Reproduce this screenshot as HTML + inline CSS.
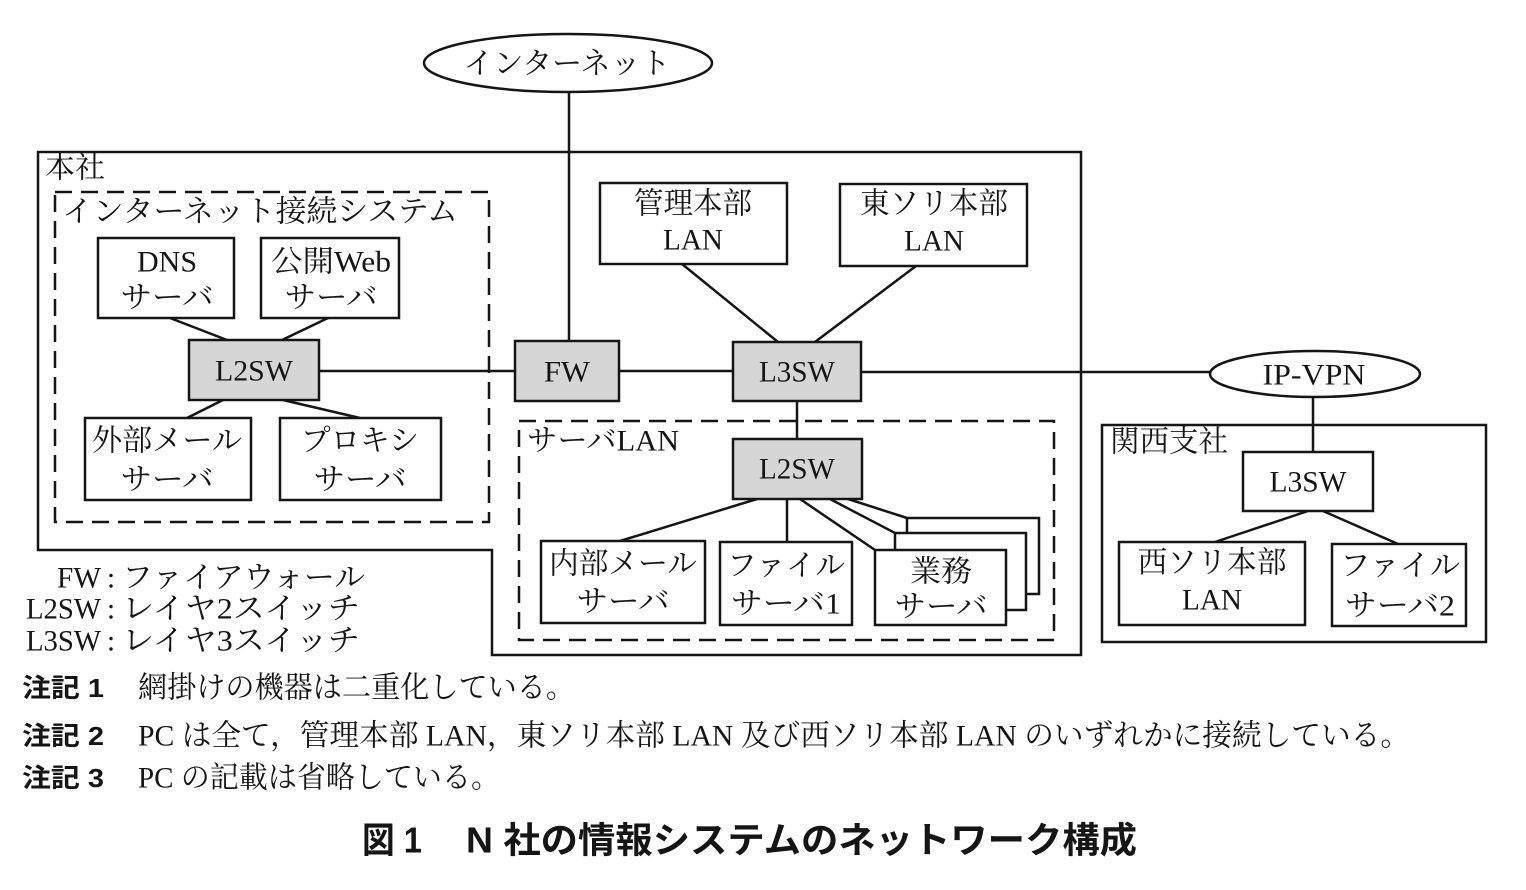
<!DOCTYPE html>
<html><head><meta charset="utf-8">
<style>
html,body{margin:0;padding:0;background:#fff;}
svg{display:block;}
.s{font-family:"Liberation Serif","Noto Serif CJK SC","Noto Serif CJK JP",serif;font-size:30px;fill:#151515;}
.g{font-family:"Liberation Sans","Noto Sans CJK JP",sans-serif;font-weight:700;fill:#151515;}
.ln{stroke:#151515;stroke-width:2.5;fill:none;}
.bx{stroke:#151515;stroke-width:2.5;fill:#fff;}
.gy{stroke:#151515;stroke-width:2.5;fill:#d6d6d6;}
.ds{stroke:#151515;stroke-width:2.5;fill:none;stroke-dasharray:17 9;}
</style></head><body>
<svg width="1526" height="890" viewBox="0 0 1526 890" xmlns="http://www.w3.org/2000/svg">
<rect width="1526" height="890" fill="#fff"/>

<!-- Internet -->
<line class="ln" x1="569" y1="92" x2="569" y2="341"/>
<ellipse class="bx" cx="568" cy="63" rx="144" ry="29"/>
<text class="s" x="567" y="64" text-anchor="middle" dominant-baseline="central" textLength="207" lengthAdjust="spacingAndGlyphs">インターネット</text>

<!-- Honsha -->
<path class="ln" d="M38,152 L1081,152 L1081,655 L492,655 L492,550 L38,550 Z"/>
<text class="s" x="45" y="168" dominant-baseline="central" textLength="60" lengthAdjust="spacingAndGlyphs">本社</text>

<!-- Internet connection system -->
<rect class="ds" x="55" y="192" width="434" height="330"/>
<text class="s" x="62" y="212" dominant-baseline="central" textLength="396" lengthAdjust="spacingAndGlyphs">インターネット接続システム</text>

<line class="ln" x1="170" y1="318" x2="227" y2="340"/>
<line class="ln" x1="328" y1="318" x2="282" y2="340"/>
<line class="ln" x1="223" y1="400" x2="187" y2="418"/>
<line class="ln" x1="283" y1="400" x2="360" y2="418"/>
<line class="ln" x1="319" y1="371" x2="515" y2="371"/>

<rect class="bx" x="98" y="238" width="136" height="80"/>
<text class="s" x="167" y="262" text-anchor="middle" dominant-baseline="central">DNS</text>
<text class="s" x="167" y="298" text-anchor="middle" dominant-baseline="central" textLength="93" lengthAdjust="spacingAndGlyphs">サーバ</text>

<rect class="bx" x="261" y="238" width="138" height="80"/>
<text class="s" x="331" y="262" text-anchor="middle" dominant-baseline="central" textLength="120" lengthAdjust="spacingAndGlyphs">公開Web</text>
<text class="s" x="331" y="298" text-anchor="middle" dominant-baseline="central" textLength="93" lengthAdjust="spacingAndGlyphs">サーバ</text>

<rect class="gy" x="189" y="340" width="130" height="60"/>
<text class="s" x="254" y="371" text-anchor="middle" dominant-baseline="central" textLength="78" lengthAdjust="spacingAndGlyphs">L2SW</text>

<rect class="bx" x="85" y="418" width="166" height="82"/>
<text class="s" x="167" y="441" text-anchor="middle" dominant-baseline="central" textLength="150" lengthAdjust="spacingAndGlyphs">外部メール</text>
<text class="s" x="167" y="480" text-anchor="middle" dominant-baseline="central" textLength="93" lengthAdjust="spacingAndGlyphs">サーバ</text>

<rect class="bx" x="280" y="418" width="161" height="82"/>
<text class="s" x="360" y="441" text-anchor="middle" dominant-baseline="central" textLength="118" lengthAdjust="spacingAndGlyphs">プロキシ</text>
<text class="s" x="360" y="480" text-anchor="middle" dominant-baseline="central" textLength="93" lengthAdjust="spacingAndGlyphs">サーバ</text>

<!-- FW / L3SW -->
<line class="ln" x1="619" y1="371" x2="733" y2="371"/>
<line class="ln" x1="682" y1="264" x2="778" y2="342"/>
<line class="ln" x1="916" y1="266" x2="815" y2="342"/>
<line class="ln" x1="861" y1="372" x2="1210" y2="372"/>
<line class="ln" x1="797" y1="401" x2="797" y2="439"/>

<rect class="gy" x="515" y="341" width="104" height="60"/>
<text class="s" x="567" y="372" text-anchor="middle" dominant-baseline="central" textLength="46" lengthAdjust="spacingAndGlyphs">FW</text>

<rect class="gy" x="733" y="342" width="128" height="59"/>
<text class="s" x="797" y="372" text-anchor="middle" dominant-baseline="central" textLength="76" lengthAdjust="spacingAndGlyphs">L3SW</text>

<rect class="bx" x="600" y="183" width="187" height="81"/>
<text class="s" x="693" y="204" text-anchor="middle" dominant-baseline="central" textLength="118" lengthAdjust="spacingAndGlyphs">管理本部</text>
<text class="s" x="693" y="240" text-anchor="middle" dominant-baseline="central" textLength="60" lengthAdjust="spacingAndGlyphs">LAN</text>

<rect class="bx" x="840" y="184" width="187" height="82"/>
<text class="s" x="934" y="204" text-anchor="middle" dominant-baseline="central" textLength="148" lengthAdjust="spacingAndGlyphs">東ソリ本部</text>
<text class="s" x="934" y="241" text-anchor="middle" dominant-baseline="central" textLength="60" lengthAdjust="spacingAndGlyphs">LAN</text>

<!-- Server LAN -->
<rect class="ds" x="519" y="421" width="535" height="219"/>
<text class="s" x="527" y="441" dominant-baseline="central" textLength="152" lengthAdjust="spacingAndGlyphs">サーバLAN</text>

<line class="ln" x1="757" y1="499" x2="620" y2="541"/>
<line class="ln" x1="787" y1="499" x2="787" y2="542"/>
<line class="ln" x1="800" y1="499" x2="875" y2="550"/>
<line class="ln" x1="830" y1="499" x2="895" y2="533"/>
<line class="ln" x1="848" y1="499" x2="907" y2="518"/>

<rect class="gy" x="733" y="439" width="129" height="60"/>
<text class="s" x="797" y="469" text-anchor="middle" dominant-baseline="central" textLength="76" lengthAdjust="spacingAndGlyphs">L2SW</text>

<rect class="bx" x="541" y="541" width="164" height="82"/>
<text class="s" x="623" y="564" text-anchor="middle" dominant-baseline="central" textLength="148" lengthAdjust="spacingAndGlyphs">内部メール</text>
<text class="s" x="623" y="602" text-anchor="middle" dominant-baseline="central" textLength="93" lengthAdjust="spacingAndGlyphs">サーバ</text>

<rect class="bx" x="720" y="542" width="132" height="83"/>
<text class="s" x="786" y="566" text-anchor="middle" dominant-baseline="central" textLength="118" lengthAdjust="spacingAndGlyphs">ファイル</text>
<text class="s" x="786" y="604" text-anchor="middle" dominant-baseline="central" textLength="110" lengthAdjust="spacingAndGlyphs">サーバ1</text>

<rect class="bx" x="907" y="518" width="132" height="76"/>
<rect class="bx" x="895" y="533" width="131" height="77"/>
<rect class="bx" x="875" y="550" width="131" height="75"/>
<text class="s" x="941" y="572" text-anchor="middle" dominant-baseline="central" textLength="62" lengthAdjust="spacingAndGlyphs">業務</text>
<text class="s" x="941" y="607" text-anchor="middle" dominant-baseline="central" textLength="93" lengthAdjust="spacingAndGlyphs">サーバ</text>

<!-- IP-VPN & Kansai -->
<line class="ln" x1="1313" y1="397" x2="1313" y2="452"/>
<ellipse class="bx" cx="1315" cy="374" rx="105" ry="23"/>
<text class="s" x="1314" y="375" text-anchor="middle" dominant-baseline="central" textLength="103" lengthAdjust="spacingAndGlyphs">IP-VPN</text>

<rect class="ln" x="1102" y="425" width="384" height="217"/>
<text class="s" x="1110" y="442" dominant-baseline="central" textLength="118" lengthAdjust="spacingAndGlyphs">関西支社</text>

<line class="ln" x1="1308" y1="511" x2="1215" y2="542"/>
<line class="ln" x1="1323" y1="511" x2="1398" y2="544"/>

<rect class="bx" x="1243" y="452" width="130" height="59"/>
<text class="s" x="1308" y="482" text-anchor="middle" dominant-baseline="central" textLength="77" lengthAdjust="spacingAndGlyphs">L3SW</text>

<rect class="bx" x="1119" y="542" width="186" height="83"/>
<text class="s" x="1212" y="563" text-anchor="middle" dominant-baseline="central" textLength="149" lengthAdjust="spacingAndGlyphs">西ソリ本部</text>
<text class="s" x="1212" y="600" text-anchor="middle" dominant-baseline="central" textLength="60" lengthAdjust="spacingAndGlyphs">LAN</text>

<rect class="bx" x="1332" y="544" width="134" height="82"/>
<text class="s" x="1400" y="566" text-anchor="middle" dominant-baseline="central" textLength="120" lengthAdjust="spacingAndGlyphs">ファイル</text>
<text class="s" x="1400" y="606" text-anchor="middle" dominant-baseline="central" textLength="110" lengthAdjust="spacingAndGlyphs">サーバ2</text>

<!-- Legend -->
<text class="s" x="101" y="578" text-anchor="end" dominant-baseline="central" font-size="29" textLength="44" lengthAdjust="spacingAndGlyphs">FW</text>
<text class="s" x="111" y="578" text-anchor="middle" dominant-baseline="central" font-size="29">:</text>
<text class="s" x="122" y="578" dominant-baseline="central" textLength="243" lengthAdjust="spacingAndGlyphs">ファイアウォール</text>

<text class="s" x="101" y="609" text-anchor="end" dominant-baseline="central" font-size="29" textLength="75" lengthAdjust="spacingAndGlyphs">L2SW</text>
<text class="s" x="111" y="609" text-anchor="middle" dominant-baseline="central" font-size="29">:</text>
<text class="s" x="122" y="609" dominant-baseline="central" textLength="238" lengthAdjust="spacingAndGlyphs">レイヤ2スイッチ</text>

<text class="s" x="101" y="641" text-anchor="end" dominant-baseline="central" font-size="29" textLength="75" lengthAdjust="spacingAndGlyphs">L3SW</text>
<text class="s" x="111" y="641" text-anchor="middle" dominant-baseline="central" font-size="29">:</text>
<text class="s" x="122" y="641" dominant-baseline="central" textLength="238" lengthAdjust="spacingAndGlyphs">レイヤ3スイッチ</text>

<!-- Notes -->
<text class="g" x="22" y="688" dominant-baseline="central" font-size="26" textLength="82" lengthAdjust="spacingAndGlyphs">注記 1</text>
<text class="s" x="138" y="688" dominant-baseline="central" font-size="29" textLength="437" lengthAdjust="spacingAndGlyphs">網掛けの機器は二重化している。</text>

<text class="g" x="22" y="736" dominant-baseline="central" font-size="26" textLength="82" lengthAdjust="spacingAndGlyphs">注記 2</text>
<text class="s" x="138" y="736" dominant-baseline="central" font-size="29" textLength="1272" lengthAdjust="spacingAndGlyphs">PC は全て，管理本部 LAN，東ソリ本部 LAN 及び西ソリ本部 LAN のいずれかに接続している。</text>

<text class="g" x="22" y="778" dominant-baseline="central" font-size="26" textLength="82" lengthAdjust="spacingAndGlyphs">注記 3</text>
<text class="s" x="138" y="778" dominant-baseline="central" font-size="29" textLength="362" lengthAdjust="spacingAndGlyphs">PC の記載は省略している。</text>

<!-- Title -->
<text class="g" x="362" y="840" dominant-baseline="central" font-size="36" textLength="60" lengthAdjust="spacingAndGlyphs">図 1</text>
<text class="g" x="466" y="840" dominant-baseline="central" font-size="36" textLength="671" lengthAdjust="spacingAndGlyphs">N 社の情報システムのネットワーク構成</text>
</svg>
</body></html>
